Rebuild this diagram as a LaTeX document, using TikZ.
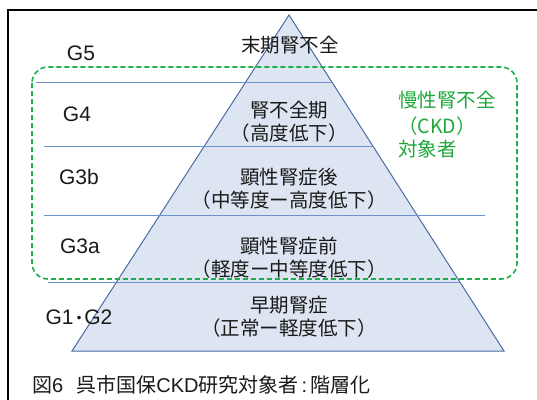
\documentclass[tikz,border=0pt]{standalone}
\usepackage{fontspec}
\setmainfont{Noto Sans CJK JP}
\newfontfamily\latinfont{Liberation Sans}
\definecolor{trifill}{HTML}{DCE5F1}
\definecolor{triedge}{HTML}{4A6DA6}
\definecolor{hline}{HTML}{6C92CC}
\definecolor{ckdgreen}{HTML}{1FA83A}
\definecolor{dashgreen}{HTML}{1DB04A}
\definecolor{txt}{HTML}{1A1A1A}
\tikzset{
  lvl/.style={font=\fontsize{19.5}{23}\selectfont, text=txt, inner sep=0pt, align=center},
  glab/.style={font=\latinfont\fontsize{21}{23}\selectfont, text=txt, inner sep=0pt},
  band/.style={draw=hline, line width=0.9pt},
  ckd/.style={font=\fontsize{19.5}{23}\selectfont, text=ckdgreen, inner sep=0pt, anchor=west},
}
\begin{document}
\begin{tikzpicture}[x=1pt,y=-1pt]
\useasboundingbox (0,0) rectangle (537,399);
\fill[white] (0,0) rectangle (537,399);
% frame
\draw[black, line width=1.4pt] (8,400) -- (8,10) -- (538,10);
% pyramid
\coordinate (apex) at (289,15);
\coordinate (bl) at (72,351);
\coordinate (br) at (504,351);
\filldraw[fill=trifill, draw=triedge, line width=1pt] (apex) -- (bl) -- (br) -- cycle;
% band lines
\draw[band] (36,82) -- (331.9,82);
\draw[band] (44,146) -- (372.8,146);
\draw[band] (44,215) -- (485,215);
\draw[band] (48,282) -- (459.9,282);
% dashed CKD region
\draw[dashgreen, line width=1.6pt, dash pattern=on 5pt off 3pt, rounded corners=16pt] (32,67) rectangle (517,279);
% G labels
\node[glab] (g5) at (81,53) {G5};
\node[glab] (g4) at (77,114) {G4};
\node[glab] (g3b) at (79,177) {G3b};
\node[glab] (g3a) at (80,246) {G3a};
\node[glab] (g12) at (79,317) {G1\hspace{-0.15em}{\rmfamily\fontsize{17}{20}\selectfont ・}\hspace{-0.15em}G2};
% pyramid labels
\node[lvl] (l5) at (290,45) {末期腎不全};
\node[lvl] (l4) at (289,121.5) {腎不全期\\（高度低下）};
\node[lvl] (l3b) at (289,189) {顕性腎症後\\（中等度ー高度低下）};
\node[lvl] (l3a) at (289,258) {顕性腎症前\\（軽度ー中等度低下）};
\node[lvl] (l12) at (289,317) {早期腎症\\（正常ー軽度低下）};
% CKD label
\node[ckd] (c1) at (398,100) {慢性腎不全};
\node[ckd] (c2) at (398,126) {（CKD）};
\node[ckd] (c3) at (398,149) {対象者};
% caption
\node[font=\fontsize{20}{22}\selectfont, text=txt, inner sep=0pt, anchor=west] (cap) at (32,385) {図{\latinfont 6}\hspace{13pt}呉市国保{\latinfont CKD}研究対象者\hspace{3pt}{\latinfont :}\hspace{3pt}階層化};
\end{tikzpicture}
\end{document}
